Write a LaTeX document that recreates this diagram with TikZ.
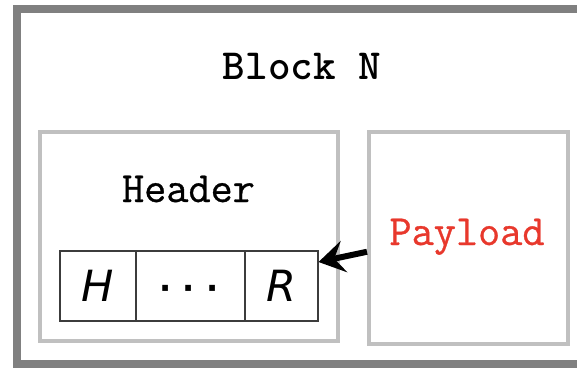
\documentclass[tikz,border=0pt]{standalone}
\usepackage{fontspec}
\setsansfont{DejaVu Sans}
\newfontfamily\dotfont{DejaVu Sans}
\newfontfamily\labelfont[FakeBold=0.7]{Latin Modern Mono}
\usetikzlibrary{arrows.meta}
\definecolor{outergray}{RGB}{128,128,128}
\definecolor{innergray}{RGB}{192,192,192}
\definecolor{celledge}{RGB}{60,60,60}
\definecolor{payloadred}{RGB}{232,56,44}
\tikzset{
  blockframe/.style={draw=outergray, line width=8pt, rectangle, inner sep=0pt},
  partbox/.style={draw=innergray, line width=4pt, rectangle, inner sep=0pt},
  cell/.style={draw=celledge, line width=1.1pt, rectangle, inner sep=0pt,
    minimum height=70pt, font=\fontsize{43}{50}\sffamily\itshape},
  label/.style={font=\fontsize{43}{50}\labelfont, anchor=base, inner sep=0pt},
  link/.style={-{Stealth[length=26pt,width=32pt,inset=10pt]}, line width=6pt, black},
}
\begin{document}
\begin{tikzpicture}[x=1pt, y=-1pt]
  \useasboundingbox (0,0) rectangle (577,367);
  \fill[white] (0,0) rectangle (577,367);
  % outer block frame (its right side runs off the page)
  \node[blockframe, minimum width=565pt, minimum height=355pt] (block) at (299.5,186.5) {};
  \node[label, font=\fontsize{43}{50}\ttfamily\bfseries] (title) at (302,79) {Block N};
  % header part with its register row
  \node[partbox, minimum width=298.5pt, minimum height=209pt] (header) at (188.75,236.5) {};
  \node[label] (htext) at (188.5,202) {Header};
  \node[cell, minimum width=76pt] (hcell) at (98,286) {H};
  \node[cell, minimum width=109pt] (dcell) at (190.5,286) {};
  \node[cell, minimum width=73pt] (rcell) at (281.5,286) {R};
  \node[anchor=base, inner sep=0pt, font=\fontsize{32}{40}\dotfont\bfseries] (dots) at (189,299) {·\hspace{11pt}·\hspace{11pt}·};
  % payload part
  \node[partbox, minimum width=198.5pt, minimum height=211.5pt] (payload) at (468.25,237.75) {};
  \node[label, text=payloadred] (ptext) at (467,245) {Payload};
  \draw[link] ([yshift=-14pt]payload.west) -- ([yshift=24pt]rcell.east);
\end{tikzpicture}
\end{document}
